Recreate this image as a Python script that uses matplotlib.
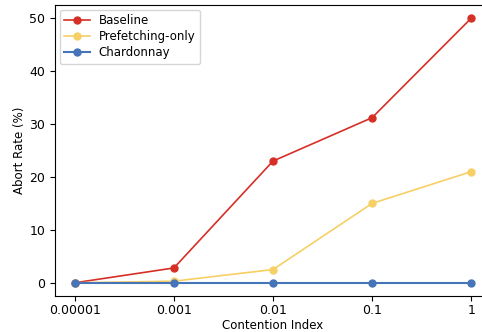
import matplotlib
matplotlib.use("Agg")
import matplotlib.pyplot as plt

categories = ["0.00001", "0.001", "0.01", "0.1", "1"]
baseline = [0, 2.8, 23.0, 31.2, 50.0]
prefetching = [0, 0.3, 2.5, 15.0, 21.0]
chardonnay = [0, 0, 0, 0, 0]

fig = plt.figure(figsize=(4.82, 3.32), dpi=100)
ax = fig.add_axes([55/482, 1-296/332, (491-55)/482, (296-5)/332])
x = list(range(len(categories)))
ax.plot(x, baseline, marker="o", color="#d62f27", label="Baseline", lw=1.2, ms=5)
ax.plot(x, prefetching, marker="o", color="#f6cf65", label="Prefetching-only", lw=1.2, ms=5)
ax.plot(x, chardonnay, marker="o", color="#4574b7", label="Chardonnay", lw=1.5, ms=5)
ax.set_xticks(x)
ax.set_xticklabels(categories, fontsize=9)
ax.set_yticks([0, 10, 20, 30, 40, 50])
ax.tick_params(labelsize=9)
ax.tick_params(axis="x", pad=2.5)
ax.set_xlim(-0.2, 4.2)
ax.set_ylim(-2.5, 52.5)
ax.set_xlabel("Contention Index", fontsize=8.5, labelpad=1)
ax.set_ylabel("Abort Rate (%)", fontsize=8.5, labelpad=2)
ax.legend(loc="upper left", fontsize=8.5, handlelength=2.2, labelspacing=0.25,
          borderaxespad=0.4, handletextpad=0.7)
fig.savefig("out.png", dpi=100)
